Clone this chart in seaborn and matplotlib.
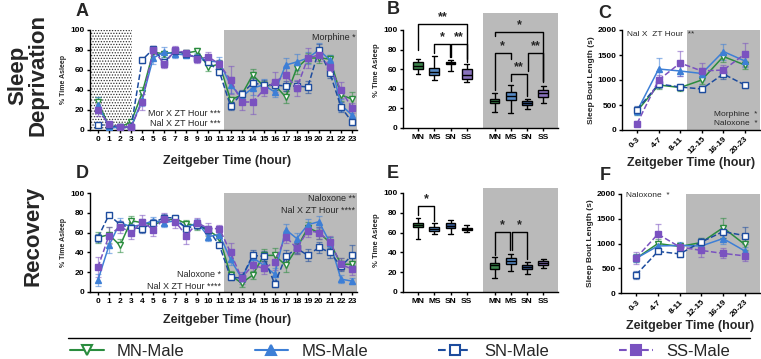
import numpy as np
import pandas as pd
import matplotlib
matplotlib.use("Agg")
import matplotlib.pyplot as plt
import seaborn as sns
from matplotlib.lines import Line2D

sns.set_style("ticks")
plt.rcParams['font.family'] = ['Liberation Sans', 'DejaVu Sans']
plt.rcParams['hatch.linewidth'] = 0.6

# ---- data ----
groups = ['MN', 'MS', 'SN', 'SS']
legend_labels = ['MN-Male', 'MS-Male', 'SN-Male', 'SS-Male']
zt_hours = list(range(24))
bout_bins = ['0-3', '4-7', '8-11', '12-15', '16-19', '20-23']

# A: sleep deprivation, % time asleep per ZT hour
sd_mn = [28, 4, 3, 8, 37, 78, 76, 78, 77, 79, 63, 66, 30, 35, 55, 44, 45, 33, 62, 72, 72, 71, 35, 31]
sd_ms = [25, 3, 2, 3, 30, 72, 78, 76, 75, 73, 69, 68, 45, 33, 42, 45, 38, 65, 68, 72, 80, 70, 25, 15]
sd_sn = [5, 5, 3, 3, 70, 81, 68, 79, 76, 72, 68, 58, 24, 36, 47, 45, 45, 44, 44, 43, 80, 57, 23, 8]
sd_ss = [20, 6, 3, 3, 28, 80, 66, 80, 77, 71, 73, 66, 50, 28, 28, 40, 48, 55, 42, 72, 75, 63, 40, 22]
sd_mn_err = [5, 2, 1, 2, 6, 4, 3, 4, 3, 3, 4, 4, 3, 4, 6, 5, 5, 6, 6, 5, 5, 4, 6, 7]
sd_ms_err = [8, 2, 1, 1, 6, 6, 5, 4, 3, 4, 4, 5, 8, 5, 7, 6, 5, 7, 8, 6, 7, 5, 6, 4]
sd_sn_err = [2, 1, 1, 1, 3, 3, 3, 3, 3, 3, 3, 3, 4, 4, 5, 5, 5, 5, 5, 6, 6, 5, 5, 3]
sd_ss_err = [6, 2, 1, 1, 8, 4, 4, 4, 3, 4, 5, 4, 14, 8, 12, 6, 10, 9, 8, 10, 6, 6, 8, 5]

# D: recovery, % time asleep per ZT hour
rc_mn = [55, 58, 47, 72, 70, 68, 72, 74, 69, 67, 62, 55, 17, 9, 17, 37, 37, 27, 44, 65, 60, 50, 28, 28]
rc_ms = [12, 47, 70, 66, 68, 72, 70, 72, 65, 70, 56, 58, 33, 14, 35, 27, 18, 63, 54, 68, 71, 50, 13, 11]
rc_sn = [55, 78, 68, 65, 64, 70, 75, 75, 64, 68, 63, 47, 15, 14, 37, 36, 8, 36, 44, 37, 45, 40, 26, 37]
rc_ss = [25, 57, 66, 60, 71, 63, 74, 71, 57, 70, 64, 64, 40, 14, 27, 24, 30, 56, 44, 62, 60, 51, 28, 23]
rc_mn_err = [6, 8, 7, 5, 4, 4, 4, 3, 4, 4, 5, 4, 4, 4, 4, 6, 7, 7, 6, 6, 6, 6, 6, 6]
rc_ms_err = [6, 8, 5, 5, 4, 4, 4, 3, 4, 4, 4, 4, 6, 4, 5, 6, 6, 6, 6, 6, 6, 6, 4, 3]
rc_sn_err = [4, 2, 4, 4, 4, 4, 4, 3, 4, 4, 4, 3, 3, 4, 5, 5, 3, 6, 5, 6, 6, 6, 5, 10]
rc_ss_err = [10, 9, 6, 6, 7, 6, 6, 6, 9, 5, 6, 4, 10, 6, 8, 6, 8, 6, 6, 6, 6, 6, 6, 6]

# B / E: box summaries (min, q1, median, q3, max), light phase then dark phase
sd_light_boxes = [[55, 60, 63, 67, 70], [49, 54, 57, 61, 73], [58, 65, 66, 67, 69], [47, 50, 54, 60, 65]]
sd_dark_boxes = [[16, 25, 28, 30, 36], [15, 29, 33, 37, 44], [19, 23, 26, 28, 30], [26, 32, 36, 39, 43]]
rc_light_boxes = [[54, 66, 68, 70, 75], [59, 62, 64, 66, 70], [59, 65, 67, 70, 73], [61, 63, 64, 65, 68]]
rc_dark_boxes = [[14, 23, 27, 29, 35], [21, 28, 31, 34, 38], [18, 23, 25, 27, 30], [24, 27, 29, 31, 33]]

# C / F: sleep bout length (s)
sdb_mn = [380, 900, 850, 1000, 1470, 1300]
sdb_ms = [380, 1220, 1180, 1130, 1570, 1380]
sdb_sn = [410, 920, 860, 820, 1120, 900]
sdb_ss = [130, 1000, 1340, 1180, 1200, 1520]
sdb_mn_err = [80, 80, 60, 80, 100, 80]
sdb_ms_err = [80, 230, 100, 120, 160, 120]
sdb_sn_err = [70, 80, 60, 60, 100, 50]
sdb_ss_err = [50, 100, 250, 160, 100, 230]
rcb_mn = [700, 1000, 940, 1020, 1320, 980]
rcb_ms = [700, 950, 960, 950, 1100, 850]
rcb_sn = [370, 840, 790, 1030, 1240, 1160]
rcb_ss = [710, 1190, 930, 860, 800, 750]
rcb_mn_err = [80, 100, 80, 100, 200, 120]
rcb_ms_err = [80, 80, 80, 100, 120, 80]
rcb_sn_err = [80, 60, 60, 80, 120, 170]
rcb_ss_err = [120, 200, 60, 140, 100, 100]

# ---- styles ----
line_colors = ['#2a8c3e', '#3d7fd6', '#1d4c9e', '#7a52c0']
box_colors = ['#2f8f45', '#4588d6', '#2a5aab', '#8366c8']
markers = ['v', '^', 's', 's']
filled = [False, True, False, True]
styles = ['-', '-', '--', '--']
GRAY = '#bababa'

W, H = 761, 359
fig = plt.figure(figsize=(W / 100, H / 100), dpi=100)


def rect(l, t, r, b):
    return [l / W, 1 - b / H, (r - l) / W, (b - t) / H]


def style_axis(ax, fs=6):
    sns.despine(ax=ax)
    for s in ['left', 'bottom']:
        ax.spines[s].set_linewidth(1.0)
        ax.spines[s].set_color('black')
    ax.tick_params(length=2.5, width=1.0, labelsize=fs, pad=1.5, colors='black')
    for lab in ax.get_xticklabels() + ax.get_yticklabels():
        lab.set_fontweight('bold')


def draw_lines(ax, x, series, errs, ms=3.8):
    for vals, err, c, m, f, ls in zip(series, errs, line_colors, markers, filled, styles):
        ax.errorbar(x, vals, yerr=err, fmt='none', ecolor=c, alpha=0.55,
                    capsize=2, elinewidth=0.9, capthick=0.9, zorder=3)
        sns.lineplot(x=x, y=vals, ax=ax, color=c, marker=m, linestyle=ls,
                     linewidth=1.1, markersize=ms, markeredgewidth=1.0,
                     markerfacecolor=c if f else 'white', markeredgecolor=c,
                     zorder=4, legend=False)


def bracket(ax, x1, x2, y, y1, y2, text, fs=9):
    ax.plot([x1, x1, x2, x2], [y1, y, y, y2], color='black', lw=1.0, zorder=5, clip_on=False)
    ax.text((x1 + x2) / 2, y + 0.5, text, ha='center', va='bottom', fontsize=fs, fontweight='bold')


# ---- A ----
axA = fig.add_axes(rect(90, 30, 357, 130))
axA.axvspan(-0.72, 3.1, facecolor='white', edgecolor='#333333', hatch='......', lw=0, zorder=0)
axA.axvspan(11.4, 23.45, color=GRAY, lw=0, zorder=0)
draw_lines(axA, zt_hours, [sd_mn, sd_ms, sd_sn, sd_ss], [sd_mn_err, sd_ms_err, sd_sn_err, sd_ss_err])
axA.set_xlim(-0.72, 23.45)
axA.set_ylim(0, 100)
axA.set_xticks(zt_hours)
axA.set_yticks([0, 20, 40, 60, 80, 100])
axA.set_xlabel('')
axA.set_ylabel('% Time Asleep', fontsize=5, fontweight='bold', labelpad=2)
style_axis(axA)
axA.text(11.1, 17, 'Mor X ZT Hour ***', ha='right', va='center', fontsize=6.5)
axA.text(11.1, 6, 'Nal X ZT Hour ***', ha='right', va='center', fontsize=6.5)
axA.text(23.3, 92, 'Morphine *', ha='right', va='center', fontsize=6.5)

# ---- D ----
axD = fig.add_axes(rect(90, 193, 357, 292))
axD.axvspan(11.4, 23.45, color=GRAY, lw=0, zorder=0)
draw_lines(axD, zt_hours, [rc_mn, rc_ms, rc_sn, rc_ss], [rc_mn_err, rc_ms_err, rc_sn_err, rc_ss_err])
axD.set_xlim(-0.72, 23.45)
axD.set_ylim(0, 100)
axD.set_xticks(zt_hours)
axD.set_yticks([0, 20, 40, 60, 80, 100])
axD.set_xlabel('')
axD.set_ylabel('% Time Asleep', fontsize=5, fontweight='bold', labelpad=2)
style_axis(axD)
axD.text(11.1, 18, 'Naloxone *', ha='right', va='center', fontsize=6.5)
axD.text(11.1, 6, 'Nal X ZT Hour ****', ha='right', va='center', fontsize=6.5)
axD.text(23.3, 94, 'Naloxone **', ha='right', va='center', fontsize=6.5)
axD.text(23.3, 82, 'Nal X ZT Hour ****', ha='right', va='center', fontsize=6.5)

# ---- B / E boxes ----
box_pos = [0, 1, 2, 3, 4.7, 5.7, 6.7, 7.7]


def draw_boxes(ax, light, dark, top):
    rows = []
    for i, b in enumerate(light + dark):
        for v in b:
            rows.append({'pos': box_pos[i], 'val': v, 'grp': groups[i % 4]})
    df = pd.DataFrame(rows)
    ax.axvspan(4.0, 8.6, color=GRAY, lw=0, zorder=0)
    sns.boxplot(data=df, x='pos', y='val', hue='grp', palette=box_colors, native_scale=True,
                dodge=False, width=0.6, whis=(0, 100), linecolor='black', linewidth=1.0,
                showfliers=False, legend=False, ax=ax)
    ax.set_xlim(-0.92, 8.6)
    ax.set_ylim(0, top)
    ax.set_yticks([0, 20, 40, 60, 80, 100])
    ax.spines['left'].set_bounds(0, 100)
    ax.set_xticks(box_pos)
    ax.set_xticklabels(groups + groups)
    ax.set_xlabel('')
    ax.set_ylabel('% Time Asleep', fontsize=5.5, fontweight='bold', labelpad=2)
    style_axis(ax, fs=6)


axB = fig.add_axes(rect(403, 13, 558, 128))
draw_boxes(axB, sd_light_boxes, sd_dark_boxes, 117.3)
bracket(axB, 0, 3, 106, 80, 70, '**')
bracket(axB, 1, 1.95, 86, 76, 72, '*')
bracket(axB, 2.05, 3, 86, 72, 67, '**')
bracket(axB, 4.7, 7.7, 98, 94, 48, '*')
bracket(axB, 4.7, 5.7, 77, 39, 70, '*')
bracket(axB, 6.75, 7.7, 77, 58, 47, '**')
bracket(axB, 5.7, 6.7, 55, 48, 33, '**')

axE = fig.add_axes(rect(403, 188, 558, 292))
draw_boxes(axE, rc_light_boxes, rc_dark_boxes, 105)
bracket(axE, 0, 1, 87, 78, 72, '*')
bracket(axE, 4.7, 5.65, 61, 37, 42, '*')
bracket(axE, 5.75, 6.7, 61, 42, 33, '*')


# ---- C / F ----
def draw_bouts(ax, series, errs):
    x = list(range(len(bout_bins)))
    ax.axvspan(2.3, 5.7, color=GRAY, lw=0, zorder=0)
    draw_lines(ax, x, series, errs, ms=4.2)
    ax.set_xlim(-0.7, 5.7)
    ax.set_ylim(0, 2000)
    ax.set_yticks([0, 500, 1000, 1500, 2000])
    ax.set_xticks(x)
    ax.set_xticklabels(bout_bins, rotation=45, ha='right', rotation_mode='anchor')
    ax.set_xlabel('Zeitgeber Time (hour)', fontsize=9, fontweight='bold', labelpad=1)
    ax.set_ylabel('Sleep Bout Length (s)', fontsize=6, fontweight='bold', labelpad=2)
    style_axis(ax, fs=6)


axC = fig.add_axes(rect(622, 30, 760, 130))
draw_bouts(axC, [sdb_mn, sdb_ms, sdb_sn, sdb_ss], [sdb_mn_err, sdb_ms_err, sdb_sn_err, sdb_ss_err])
axC.text(-0.45, 1920, 'Nal X  ZT Hour  **', ha='left', va='center', fontsize=6)
axC.text(5.6, 310, 'Morphine  *', ha='right', va='center', fontsize=6)
axC.text(5.6, 130, 'Naloxone  *', ha='right', va='center', fontsize=6)

axF = fig.add_axes(rect(621, 194, 760, 293))
draw_bouts(axF, [rcb_mn, rcb_ms, rcb_sn, rcb_ss], [rcb_mn_err, rcb_ms_err, rcb_sn_err, rcb_ss_err])
axF.text(-0.45, 1960, 'Naloxone  *', ha='left', va='center', fontsize=6)

# ---- figure texts ----
fig.text(28 / W, 1 - 75 / H, 'Sleep\nDeprivation', rotation=90, ha='center', va='center',
         fontsize=16, fontweight='bold', linespacing=1.0)
fig.text(33 / W, 1 - 236 / H, 'Recovery', rotation=90, ha='center', va='center',
         fontsize=16, fontweight='bold')
for letter, (px, py) in {'A': (82, 11), 'B': (393, 9), 'C': (605, 14),
                         'D': (82, 173), 'E': (393, 173), 'F': (605, 175)}.items():
    fig.text(px / W, 1 - py / H, letter, ha='center', va='center', fontsize=13, fontweight='bold')
fig.text(227 / W, 1 - 161 / H, 'Zeitgeber Time (hour)', ha='center', va='center',
         fontsize=9, fontweight='bold')
fig.text(227 / W, 1 - 320 / H, 'Zeitgeber Time (hour)', ha='center', va='center',
         fontsize=9, fontweight='bold')

# legend
fig.add_artist(Line2D([68 / W, 750 / W], [1 - 338 / H] * 2, color='black', lw=1.0))
handles = [Line2D([], [], color=c, marker=m, linestyle=ls, lw=1.5, markersize=7,
                  markeredgewidth=1.5, markerfacecolor=c if f else 'white')
           for c, m, f, ls in zip(line_colors, markers, filled, styles)]
fig.legend(handles, legend_labels, loc='center', bbox_to_anchor=(400 / W, 1 - 351 / H),
           ncol=4, frameon=False, fontsize=12, handlelength=2.0, handletextpad=0.8,
           columnspacing=4.2, borderpad=0, borderaxespad=0)

fig.savefig('out.png', dpi=100)
